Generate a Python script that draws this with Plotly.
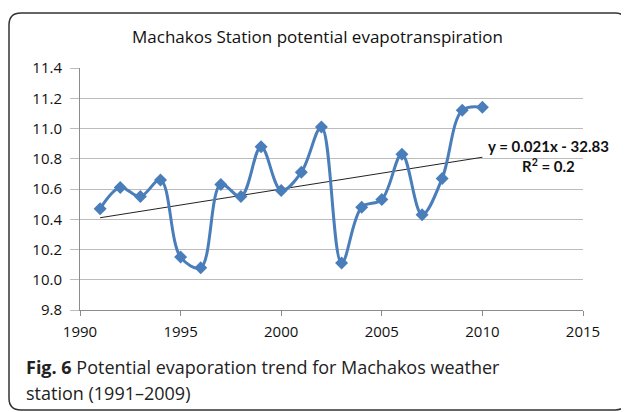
import plotly.graph_objects as go

years = list(range(1991, 2011))
pet = [10.47, 10.61, 10.55, 10.66, 10.15, 10.08, 10.63, 10.55, 10.88, 10.59,
       10.71, 11.01, 10.11, 10.48, 10.53, 10.83, 10.43, 10.67, 11.12, 11.14]
trend_x = [1991, 2010]
trend_y = [10.41, 10.81]

title_text = "Machakos Station potential evapotranspiration"
eq_text = "y = 0.021x - 32.83"
r2_text = "R<sup>2</sup> = 0.2"
caption_1 = "<b>Fig. 6</b> Potential evaporation trend for Machakos weather"
caption_2 = "station (1991–2009)"

# the page body adds an 8px offset; build the figure in that space
OFF = 8
W, H = 629 - OFF, 412 - OFF
L, T = 80 - OFF, 68 - OFF
R = W - (583 - OFF)
B = H - (310 - OFF)
pw, ph = W - L - R, H - T - B

def px(x):
    return (x - OFF - L) / pw

def py(y):
    return 1 - (y - OFF - T) / ph

blue = "#4A7EBB"

fig = go.Figure()
fig.add_trace(go.Scatter(
    x=trend_x, y=trend_y, mode="lines",
    line=dict(color="#222222", width=1), hoverinfo="skip", showlegend=False))
fig.add_trace(go.Scatter(
    x=years, y=pet, mode="lines+markers",
    line=dict(color=blue, width=3, shape="spline", smoothing=1.0),
    marker=dict(symbol="diamond", size=10, color=blue),
    showlegend=False))

# rounded border
x0, x1 = px(9), px(627)
y0, y1 = py(410), py(13)
rx, ry = 12 / pw, 12 / ph
path = (f"M {x0+rx},{y1} L {x1-rx},{y1} Q {x1},{y1} {x1},{y1-ry} "
        f"L {x1},{y0+ry} Q {x1},{y0} {x1-rx},{y0} L {x0+rx},{y0} "
        f"Q {x0},{y0} {x0},{y0+ry} L {x0},{y1-ry} Q {x0},{y1} {x0+rx},{y1} Z")
fig.add_shape(type="path", path=path, xref="paper", yref="paper",
              line=dict(color="#333333", width=1.5))

ann = []
ann.append(dict(text=title_text, x=px(317), y=py(36), xref="paper", yref="paper",
                showarrow=False, xanchor="center", yanchor="middle",
                font=dict(family="Open Sans", size=17, color="#111111")))
ann.append(dict(text="<b>" + eq_text + "</b>", x=px(548), y=py(146), xref="paper", yref="paper",
                showarrow=False, xanchor="center", yanchor="middle",
                font=dict(family="Lato", size=15, color="#111111")))
ann.append(dict(text="<b>" + r2_text + "</b>", x=px(548), y=py(165), xref="paper", yref="paper",
                showarrow=False, xanchor="center", yanchor="middle",
                font=dict(family="Lato", size=15, color="#111111")))
ann.append(dict(text=caption_1, x=px(24), y=py(367), xref="paper", yref="paper",
                showarrow=False, xanchor="left", yanchor="middle",
                font=dict(family="Open Sans", size=18, color="#222222")))
ann.append(dict(text=caption_2, x=px(24), y=py(393), xref="paper", yref="paper",
                showarrow=False, xanchor="left", yanchor="middle",
                font=dict(family="Open Sans", size=18, color="#222222")))

fig.update_layout(
    width=W, height=H,
    margin=dict(l=L, r=R, t=T, b=B),
    paper_bgcolor="white", plot_bgcolor="white",
    annotations=ann,
    font=dict(family="Open Sans", size=15, color="#111111"),
)
fig.update_xaxes(range=[1990, 2015], tickvals=[1990, 1995, 2000, 2005, 2010, 2015],
                 showgrid=False, zeroline=False, showline=True, linecolor="#8c8c8c",
                 linewidth=1, ticks="outside", ticklen=5, tickcolor="#8c8c8c",
                 ticklabelstandoff=3,
                 tickfont=dict(family="Open Sans", size=15, color="#111111"))
fig.update_yaxes(range=[9.8, 11.4], tickvals=[9.8, 10.0, 10.2, 10.4, 10.6, 10.8, 11.0, 11.2, 11.4],
                 tickformat=".1f", showgrid=True, gridcolor="#bcbcbc", gridwidth=1,
                 zeroline=False, showline=True, linecolor="#8c8c8c", linewidth=1,
                 ticks="outside", ticklen=9, tickcolor="#bcbcbc",
                 ticklabelstandoff=5,
                 tickfont=dict(family="Open Sans", size=15, color="#111111"))

fig.write_html("out.html")
